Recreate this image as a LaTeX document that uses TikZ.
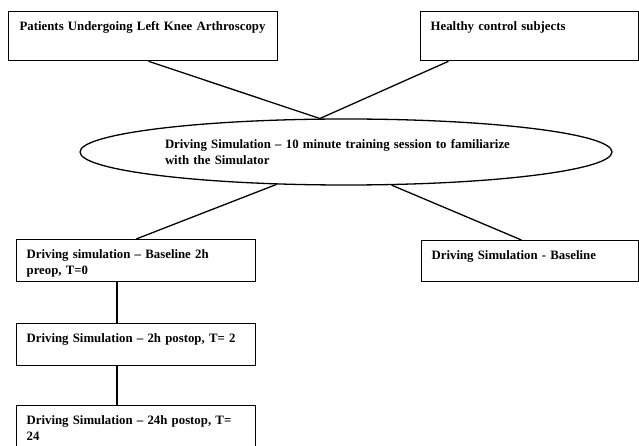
\documentclass[tikz,border=0pt]{standalone}
\usepackage{fontspec}
\setmainfont{Liberation Serif}
\usetikzlibrary{shapes.geometric,calc}

\tikzset{
  box/.style={draw, rectangle, line width=1.3pt, anchor=north west, align=left,
    inner xsep=10pt, inner ysep=0pt, text height=19pt},
  link/.style={line width=1.3pt},
}

\begin{document}
\begin{tikzpicture}[x=1pt, y=-1pt, font=\fontsize{12.8pt}{15.5pt}\selectfont\bfseries]
  \useasboundingbox (0,0) rectangle (639,446);
  % groups
  \node[box, inner xsep=11pt, text width=247pt, text depth=30pt] (patients) at (8,11)
    {Patients Undergoing Left Knee Arthroscopy};
  \node[box, text width=198pt, text depth=30pt] (healthy) at (420,11)
    {Healthy control subjects};
  % training
  \node[ellipse, draw, line width=1.3pt, inner sep=0pt, minimum width=532pt,
    minimum height=66pt, text width=362pt, align=left] (sim) at (346,152)
    {Driving Simulation -- 10 minute training session to familiarize\\with the Simulator};
  % sessions
  \node[box, text width=219pt, text depth=23pt] (preop) at (16,239)
    {Driving simulation -- Baseline 2h\\preop, T=0};
  \node[box, text width=197pt, text depth=22pt] (ctrlbase) at (421,240)
    {Driving Simulation - Baseline};
  \node[box, text width=219pt, text depth=23pt] (postop) at (16,323)
    {Driving Simulation -- 2h postop, T= 2};
  \node[box, text width=219pt, text depth=23pt] (late) at (16,405)
    {Driving Simulation -- 24h postop, T=\\24};
  % links
  \draw[link] ($(patients.south west)!0.52!(patients.south east)$) -- (sim.128);
  \draw[link] ($(healthy.south west)!0.13!(healthy.south east)$) -- (sim.128);
  \draw[link] (sim.205) -- (preop.north);
  \draw[link] (sim.324) -- ($(ctrlbase.north west)!0.46!(ctrlbase.north east)$);
  \draw[link] ($(preop.south west)!0.42!(preop.south east)$) coordinate (s1) -- (s1 |- postop.north);
  \draw[link] ($(postop.south west)!0.42!(postop.south east)$) coordinate (s2) -- (s2 |- late.north);
\end{tikzpicture}
\end{document}
